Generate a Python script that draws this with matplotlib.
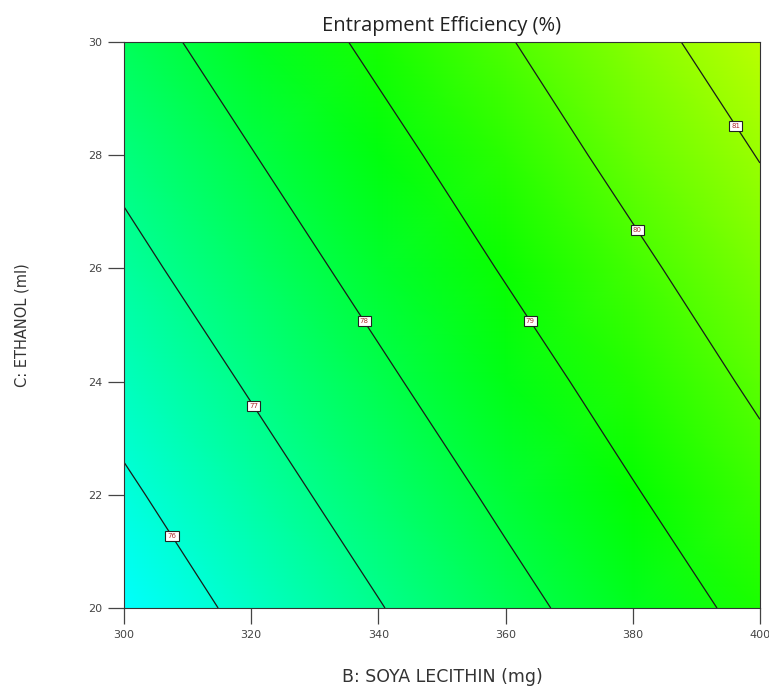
import numpy as np
import matplotlib
matplotlib.use("Agg")
import matplotlib.pyplot as plt
from matplotlib.colors import LinearSegmentedColormap

# Factor levels (design space)
soya_lecithin = [300, 320, 340, 360, 380, 400]   # B: mg
ethanol = [20, 22, 24, 26, 28, 30]               # C: ml

# Predicted entrapment efficiency (%), rows = ethanol, columns = soya lecithin
efficiency = [
    [75.43, 76.20, 76.96, 77.73, 78.49, 79.26],
    [75.87, 76.64, 77.40, 78.17, 78.94, 79.70],
    [76.32, 77.08, 77.85, 78.61, 79.38, 80.15],
    [76.76, 77.53, 78.29, 79.06, 79.82, 80.59],
    [77.20, 77.97, 78.73, 79.50, 80.27, 81.03],
    [77.65, 78.41, 79.18, 79.94, 80.71, 81.47],
]
contour_levels = [76, 77, 78, 79, 80, 81]

X, Y = np.meshgrid(soya_lecithin, ethanol)
Z = np.array(efficiency)

# blue -> cyan -> green -> yellow -> red response palette
cmap = LinearSegmentedColormap.from_list(
    "response", ["#0000ff", "#00ffff", "#00ff00", "#ffff00", "#ff0000"])

fig = plt.figure(figsize=(7.69, 6.86), dpi=100)
ax = fig.add_axes([0.1612, 0.1137, 0.827, 0.825])

ax.pcolormesh(X, Y, Z, cmap=cmap, vmin=71.9, vmax=85.9, shading="gouraud")
cs = ax.contour(X, Y, Z, levels=contour_levels, colors="#1a1a1a", linewidths=0.9)
label_spots = [(308.0, 21.3), (320.9, 23.6), (338.2, 25.1),
               (364.3, 25.1), (381.0, 26.7), (396.0, 28.5)]
labels = ax.clabel(cs, fmt="%d", fontsize=5, colors="#b03030",
                   inline=False, manual=label_spots)
for t in labels:
    t.set_rotation(0)
    t.set_bbox(dict(boxstyle="square,pad=0.3", facecolor="white",
                    edgecolor="#222222", linewidth=0.8))

ax.set_xlim(300, 400)
ax.set_ylim(20, 30)
ax.set_xticks(soya_lecithin)
ax.set_yticks(ethanol)
ax.tick_params(direction="out", length=11.5, width=0.9, color="#444444",
               labelsize=8, labelcolor="#444444", pad=4)
for sp in ax.spines.values():
    sp.set_color("#333333")
    sp.set_linewidth(0.8)

ax.set_title("Entrapment Efficiency (%)", fontsize=14.5, family="Open Sans",
             color="#222222", pad=8)
ax.set_xlabel("B: SOYA LECITHIN (mg)", fontsize=12.5, color="#333333")
ax.set_ylabel("C: ETHANOL (ml)", fontsize=10.5, color="#333333")
ax.xaxis.label.set_va("center")
ax.yaxis.label.set_va("center")
ax.xaxis.set_label_coords(0.5, -0.122)
ax.yaxis.set_label_coords(-0.160, 0.5)

fig.savefig("out.png", dpi=100)
